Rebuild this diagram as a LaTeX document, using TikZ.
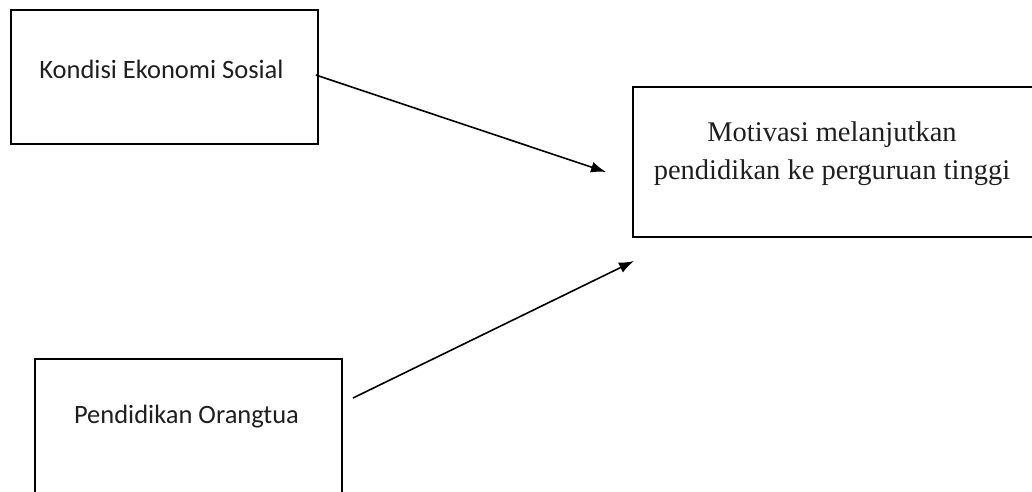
\documentclass[tikz,border=0pt]{standalone}
\usepackage{fontspec}
\setmainfont{Liberation Serif}
\newfontfamily\boxsans{Carlito}
\usetikzlibrary{arrows.meta,positioning}

\begin{document}
\begin{tikzpicture}[x=1pt,y=1pt,
	box/.style={draw, line width=1.6pt, inner sep=0pt},
	sanslbl/.style={font=\boxsans\fontsize{26.5}{30}\selectfont, text=black!88},
	seriflbl/.style={font=\fontsize{28.5}{38}\selectfont, align=center, text=black!88},
	link/.style={line width=1.6pt, -{Latex[length=15pt,width=11pt]}}]
	\useasboundingbox (0,0) rectangle (1032,491);
	\clip (0,0) rectangle (1032,491);
	% Boxes
	\node[box, minimum width=307pt, minimum height=134pt] (kes) at (164.5,414) {};
	\node[box, minimum width=412pt, minimum height=150pt] (mot) at (839,329) {};
	\node[box, minimum width=307pt, minimum height=135pt] (po) at (188.5,64.5) {};
	% Labels
	\node[sanslbl] (kestext) at ([xshift=-3pt,yshift=8pt]kes.center) {Kondisi Ekonomi Sosial};
	\node[seriflbl] (mottext) at (832,337) {Motivasi melanjutkan\\pendidikan ke perguruan tinggi};
	\node[sanslbl] (potext) at ([xshift=-2pt,yshift=10pt]po.center) {Pendidikan Orangtua};
	% Connections
	\coordinate (a1) at (606,319);
	\coordinate (a2s) at (353,93);
	\coordinate (a2) at (634,230);
	\draw[link] ([xshift=-3pt,yshift=2pt]kes.east) -- (a1);
	\draw[link] (a2s) -- (a2);
\end{tikzpicture}
\end{document}
